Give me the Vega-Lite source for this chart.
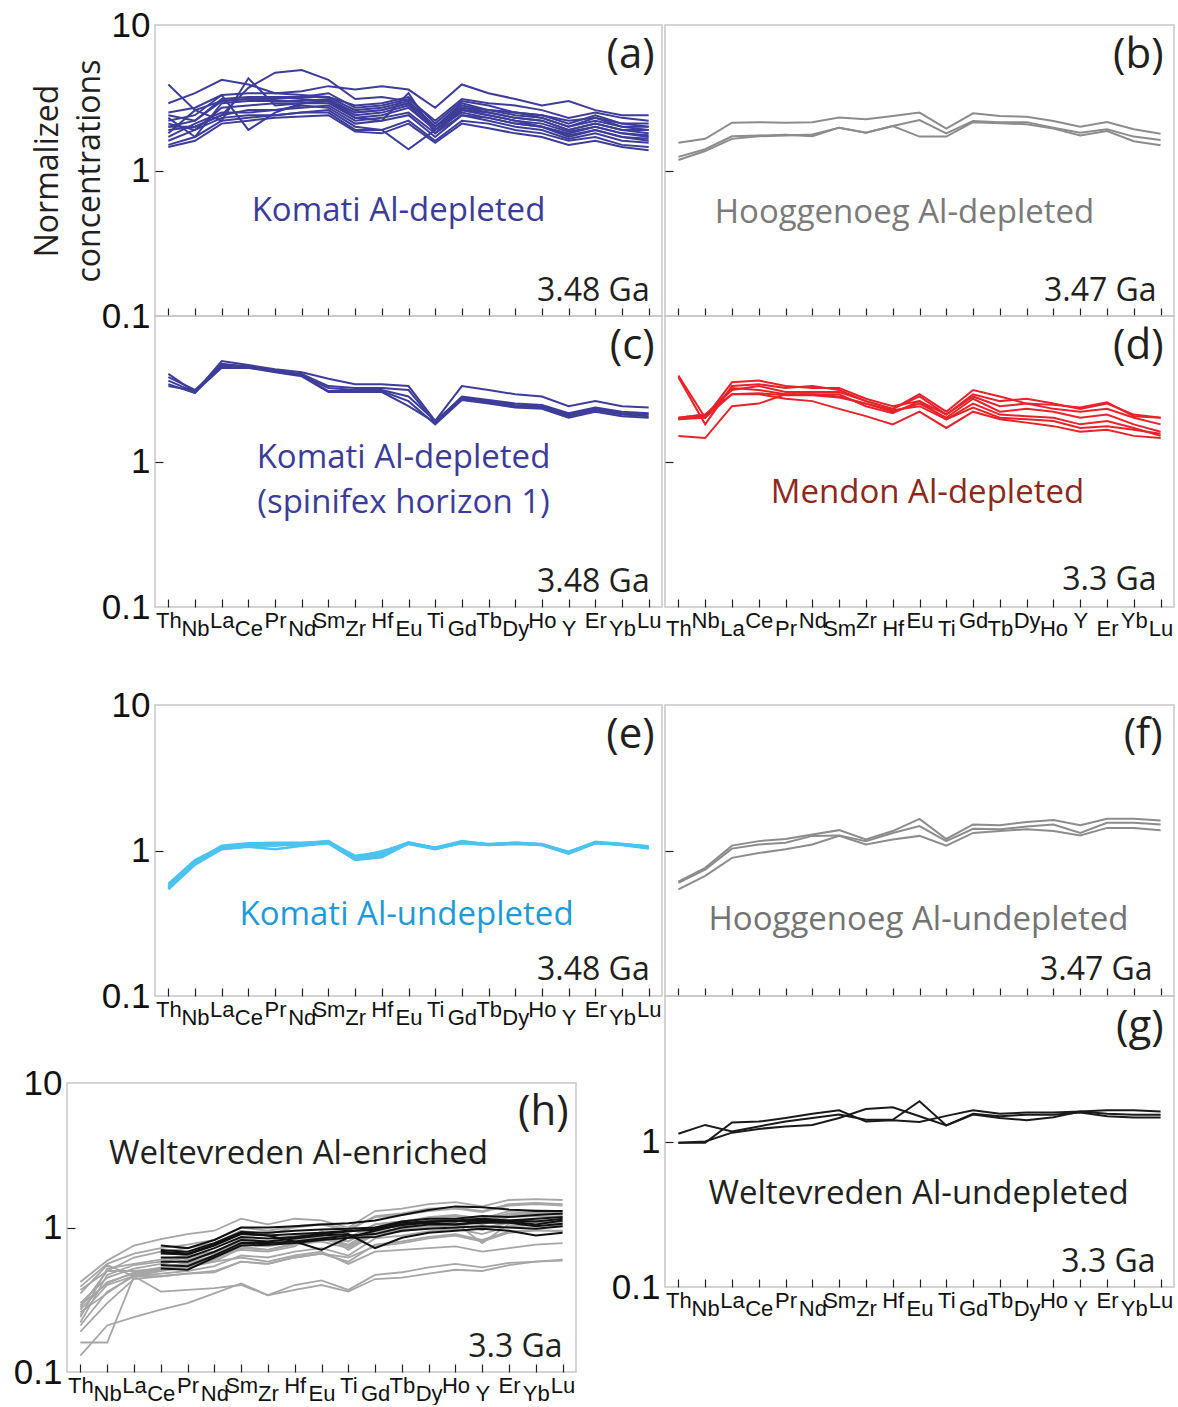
{
"$schema": "https://vega.github.io/schema/vega-lite/v6.json",
"background": "white",
"padding": {"left": 12, "top": 7, "right": 0, "bottom": 0},
"bounds": "full",
"spacing": 47,
"config": {
 "view": {"stroke": "#c6c6c6", "strokeWidth": 1.5},
 "axis": {"domain": false, "grid": false, "tickSize": -8, "tickColor": "#231f20", "tickWidth": 1.2, "labelColor": "#111111", "labelFont": "Liberation Sans Narrow, Liberation Sans, Arial", "labelOverlap": false, "labelBound": false},
 "axisX": {"labelAngle": 0, "labelFontSize": 22, "labelBaseline": "top", "labelPadding": 11},
 "axisY": {"labelFontSize": 35, "labelPadding": 13},
 "text": {"font": "Open Sans"}
},
"datasets": {
"a": [
{"s":1,"e":"Th","v":2},{"s":1,"e":"Nb","v":2.2},{"s":1,"e":"La","v":3.1},{"s":1,"e":"Ce","v":3.2},{"s":1,"e":"Pr","v":3.2},{"s":1,"e":"Nd","v":3.1},{"s":1,"e":"Sm","v":3},{"s":1,"e":"Zr","v":2.5},{"s":1,"e":"Hf","v":2.6},{"s":1,"e":"Eu","v":2.9},{"s":1,"e":"Ti","v":2},{"s":1,"e":"Gd","v":2.8},{"s":1,"e":"Tb","v":2.6},{"s":1,"e":"Dy","v":2.4},{"s":1,"e":"Ho","v":2.3},{"s":1,"e":"Y","v":2},{"s":1,"e":"Er","v":2.2},{"s":1,"e":"Yb","v":2},{"s":1,"e":"Lu","v":2},
{"s":2,"e":"Th","v":2.9},{"s":2,"e":"Nb","v":3.4},{"s":2,"e":"La","v":4.2},{"s":2,"e":"Ce","v":3.9},{"s":2,"e":"Pr","v":3.4},{"s":2,"e":"Nd","v":3.3},{"s":2,"e":"Sm","v":3.2},{"s":2,"e":"Zr","v":2.8},{"s":2,"e":"Hf","v":2.9},{"s":2,"e":"Eu","v":3.2},{"s":2,"e":"Ti","v":2.1},{"s":2,"e":"Gd","v":3},{"s":2,"e":"Tb","v":2.8},{"s":2,"e":"Dy","v":2.5},{"s":2,"e":"Ho","v":2.4},{"s":2,"e":"Y","v":2.1},{"s":2,"e":"Er","v":2.4},{"s":2,"e":"Yb","v":2.1},{"s":2,"e":"Lu","v":2.1},
{"s":3,"e":"Th","v":3.9},{"s":3,"e":"Nb","v":2.6},{"s":3,"e":"La","v":3},{"s":3,"e":"Ce","v":3.1},{"s":3,"e":"Pr","v":3.2},{"s":3,"e":"Nd","v":3.2},{"s":3,"e":"Sm","v":3.2},{"s":3,"e":"Zr","v":2.6},{"s":3,"e":"Hf","v":2.7},{"s":3,"e":"Eu","v":3},{"s":3,"e":"Ti","v":2},{"s":3,"e":"Gd","v":2.9},{"s":3,"e":"Tb","v":2.6},{"s":3,"e":"Dy","v":2.5},{"s":3,"e":"Ho","v":2.3},{"s":3,"e":"Y","v":2},{"s":3,"e":"Er","v":2.3},{"s":3,"e":"Yb","v":2},{"s":3,"e":"Lu","v":1.9},
{"s":4,"e":"Th","v":2},{"s":4,"e":"Nb","v":2},{"s":4,"e":"La","v":2.4},{"s":4,"e":"Ce","v":3.7},{"s":4,"e":"Pr","v":4.7},{"s":4,"e":"Nd","v":4.9},{"s":4,"e":"Sm","v":4.2},{"s":4,"e":"Zr","v":3.1},{"s":4,"e":"Hf","v":3.2},{"s":4,"e":"Eu","v":3},{"s":4,"e":"Ti","v":2},{"s":4,"e":"Gd","v":2.6},{"s":4,"e":"Tb","v":2.5},{"s":4,"e":"Dy","v":2.3},{"s":4,"e":"Ho","v":2.2},{"s":4,"e":"Y","v":1.9},{"s":4,"e":"Er","v":2.1},{"s":4,"e":"Yb","v":1.9},{"s":4,"e":"Lu","v":1.9},
{"s":5,"e":"Th","v":2.5},{"s":5,"e":"Nb","v":2.7},{"s":5,"e":"La","v":3.3},{"s":5,"e":"Ce","v":3.4},{"s":5,"e":"Pr","v":3.4},{"s":5,"e":"Nd","v":3.5},{"s":5,"e":"Sm","v":3.8},{"s":5,"e":"Zr","v":3.6},{"s":5,"e":"Hf","v":3.8},{"s":5,"e":"Eu","v":3.6},{"s":5,"e":"Ti","v":2.7},{"s":5,"e":"Gd","v":3.9},{"s":5,"e":"Tb","v":3.4},{"s":5,"e":"Dy","v":3.1},{"s":5,"e":"Ho","v":2.8},{"s":5,"e":"Y","v":3},{"s":5,"e":"Er","v":2.6},{"s":5,"e":"Yb","v":2.4},{"s":5,"e":"Lu","v":2.4},
{"s":6,"e":"Th","v":1.8},{"s":6,"e":"Nb","v":2.6},{"s":6,"e":"La","v":2.2},{"s":6,"e":"Ce","v":4.3},{"s":6,"e":"Pr","v":2.8},{"s":6,"e":"Nd","v":2.9},{"s":6,"e":"Sm","v":3},{"s":6,"e":"Zr","v":2.4},{"s":6,"e":"Hf","v":2.5},{"s":6,"e":"Eu","v":2.8},{"s":6,"e":"Ti","v":1.9},{"s":6,"e":"Gd","v":2.7},{"s":6,"e":"Tb","v":2.5},{"s":6,"e":"Dy","v":2.3},{"s":6,"e":"Ho","v":2.2},{"s":6,"e":"Y","v":1.9},{"s":6,"e":"Er","v":2.1},{"s":6,"e":"Yb","v":1.9},{"s":6,"e":"Lu","v":1.8},
{"s":7,"e":"Th","v":2.2},{"s":7,"e":"Nb","v":2.4},{"s":7,"e":"La","v":3.3},{"s":7,"e":"Ce","v":1.9},{"s":7,"e":"Pr","v":2.5},{"s":7,"e":"Nd","v":2.9},{"s":7,"e":"Sm","v":3},{"s":7,"e":"Zr","v":2.3},{"s":7,"e":"Hf","v":2.2},{"s":7,"e":"Eu","v":3.4},{"s":7,"e":"Ti","v":1.8},{"s":7,"e":"Gd","v":2.6},{"s":7,"e":"Tb","v":2.4},{"s":7,"e":"Dy","v":2.2},{"s":7,"e":"Ho","v":2},{"s":7,"e":"Y","v":1.8},{"s":7,"e":"Er","v":2},{"s":7,"e":"Yb","v":1.8},{"s":7,"e":"Lu","v":1.7},
{"s":8,"e":"Th","v":1.5},{"s":8,"e":"Nb","v":1.7},{"s":8,"e":"La","v":2.2},{"s":8,"e":"Ce","v":2.3},{"s":8,"e":"Pr","v":2.4},{"s":8,"e":"Nd","v":2.5},{"s":8,"e":"Sm","v":2.6},{"s":8,"e":"Zr","v":2},{"s":8,"e":"Hf","v":1.9},{"s":8,"e":"Eu","v":1.4},{"s":8,"e":"Ti","v":1.9},{"s":8,"e":"Gd","v":2.5},{"s":8,"e":"Tb","v":2.3},{"s":8,"e":"Dy","v":2.1},{"s":8,"e":"Ho","v":2},{"s":8,"e":"Y","v":1.7},{"s":8,"e":"Er","v":1.9},{"s":8,"e":"Yb","v":1.7},{"s":8,"e":"Lu","v":1.6},
{"s":9,"e":"Th","v":1.6},{"s":9,"e":"Nb","v":1.9},{"s":9,"e":"La","v":2.3},{"s":9,"e":"Ce","v":2.4},{"s":9,"e":"Pr","v":2.4},{"s":9,"e":"Nd","v":2.5},{"s":9,"e":"Sm","v":2.5},{"s":9,"e":"Zr","v":1.9},{"s":9,"e":"Hf","v":1.9},{"s":9,"e":"Eu","v":2.2},{"s":9,"e":"Ti","v":1.6},{"s":9,"e":"Gd","v":2.2},{"s":9,"e":"Tb","v":2.1},{"s":9,"e":"Dy","v":1.9},{"s":9,"e":"Ho","v":1.8},{"s":9,"e":"Y","v":1.6},{"s":9,"e":"Er","v":1.7},{"s":9,"e":"Yb","v":1.5},{"s":9,"e":"Lu","v":1.45},
{"s":10,"e":"Th","v":1.9},{"s":10,"e":"Nb","v":2},{"s":10,"e":"La","v":2.4},{"s":10,"e":"Ce","v":2.6},{"s":10,"e":"Pr","v":2.6},{"s":10,"e":"Nd","v":2.7},{"s":10,"e":"Sm","v":2.8},{"s":10,"e":"Zr","v":2.2},{"s":10,"e":"Hf","v":2.3},{"s":10,"e":"Eu","v":2.5},{"s":10,"e":"Ti","v":1.8},{"s":10,"e":"Gd","v":2.4},{"s":10,"e":"Tb","v":2.3},{"s":10,"e":"Dy","v":2.1},{"s":10,"e":"Ho","v":2},{"s":10,"e":"Y","v":1.75},{"s":10,"e":"Er","v":1.9},{"s":10,"e":"Yb","v":1.7},{"s":10,"e":"Lu","v":1.65},
{"s":11,"e":"Th","v":2.1},{"s":11,"e":"Nb","v":1.9},{"s":11,"e":"La","v":2.7},{"s":11,"e":"Ce","v":2.8},{"s":11,"e":"Pr","v":2.9},{"s":11,"e":"Nd","v":2.9},{"s":11,"e":"Sm","v":2.9},{"s":11,"e":"Zr","v":2.3},{"s":11,"e":"Hf","v":2.4},{"s":11,"e":"Eu","v":2.7},{"s":11,"e":"Ti","v":1.9},{"s":11,"e":"Gd","v":2.6},{"s":11,"e":"Tb","v":2.4},{"s":11,"e":"Dy","v":2.2},{"s":11,"e":"Ho","v":2.1},{"s":11,"e":"Y","v":1.85},{"s":11,"e":"Er","v":2},{"s":11,"e":"Yb","v":1.8},{"s":11,"e":"Lu","v":1.75},
{"s":12,"e":"Th","v":1.7},{"s":12,"e":"Nb","v":2.1},{"s":12,"e":"La","v":2.5},{"s":12,"e":"Ce","v":2.5},{"s":12,"e":"Pr","v":2.6},{"s":12,"e":"Nd","v":2.8},{"s":12,"e":"Sm","v":2.7},{"s":12,"e":"Zr","v":2.1},{"s":12,"e":"Hf","v":2.2},{"s":12,"e":"Eu","v":2.4},{"s":12,"e":"Ti","v":1.7},{"s":12,"e":"Gd","v":2.4},{"s":12,"e":"Tb","v":2.2},{"s":12,"e":"Dy","v":2},{"s":12,"e":"Ho","v":1.9},{"s":12,"e":"Y","v":1.65},{"s":12,"e":"Er","v":1.8},{"s":12,"e":"Yb","v":1.6},{"s":12,"e":"Lu","v":1.55},
{"s":13,"e":"Th","v":2.4},{"s":13,"e":"Nb","v":2.2},{"s":13,"e":"La","v":3},{"s":13,"e":"Ce","v":3.1},{"s":13,"e":"Pr","v":3.1},{"s":13,"e":"Nd","v":3.2},{"s":13,"e":"Sm","v":3.4},{"s":13,"e":"Zr","v":2.7},{"s":13,"e":"Hf","v":2.8},{"s":13,"e":"Eu","v":3.1},{"s":13,"e":"Ti","v":2.2},{"s":13,"e":"Gd","v":3.1},{"s":13,"e":"Tb","v":2.9},{"s":13,"e":"Dy","v":2.8},{"s":13,"e":"Ho","v":2.6},{"s":13,"e":"Y","v":2.3},{"s":13,"e":"Er","v":2.5},{"s":13,"e":"Yb","v":2.3},{"s":13,"e":"Lu","v":2.2},
{"s":14,"e":"Th","v":2.3},{"s":14,"e":"Nb","v":1.7},{"s":14,"e":"La","v":2.9},{"s":14,"e":"Ce","v":3},{"s":14,"e":"Pr","v":3},{"s":14,"e":"Nd","v":3},{"s":14,"e":"Sm","v":3.1},{"s":14,"e":"Zr","v":2.5},{"s":14,"e":"Hf","v":2.6},{"s":14,"e":"Eu","v":2.9},{"s":14,"e":"Ti","v":2},{"s":14,"e":"Gd","v":2.7},{"s":14,"e":"Tb","v":2.6},{"s":14,"e":"Dy","v":2.5},{"s":14,"e":"Ho","v":2.4},{"s":14,"e":"Y","v":2.2},{"s":14,"e":"Er","v":2.3},{"s":14,"e":"Yb","v":2.1},{"s":14,"e":"Lu","v":2},
{"s":15,"e":"Th","v":1.45},{"s":15,"e":"Nb","v":1.6},{"s":15,"e":"La","v":2.1},{"s":15,"e":"Ce","v":2.2},{"s":15,"e":"Pr","v":2.3},{"s":15,"e":"Nd","v":2.35},{"s":15,"e":"Sm","v":2.4},{"s":15,"e":"Zr","v":1.85},{"s":15,"e":"Hf","v":1.8},{"s":15,"e":"Eu","v":2.1},{"s":15,"e":"Ti","v":1.55},{"s":15,"e":"Gd","v":2.1},{"s":15,"e":"Tb","v":1.95},{"s":15,"e":"Dy","v":1.8},{"s":15,"e":"Ho","v":1.7},{"s":15,"e":"Y","v":1.5},{"s":15,"e":"Er","v":1.6},{"s":15,"e":"Yb","v":1.45},{"s":15,"e":"Lu","v":1.38}
],
"b": [
{"s":1,"e":"Th","v":1.55},{"s":1,"e":"Nb","v":1.65},{"s":1,"e":"La","v":2.13},{"s":1,"e":"Ce","v":2.15},{"s":1,"e":"Pr","v":2.13},{"s":1,"e":"Nd","v":2.15},{"s":1,"e":"Sm","v":2.31},{"s":1,"e":"Zr","v":2.25},{"s":1,"e":"Hf","v":2.37},{"s":1,"e":"Eu","v":2.5},{"s":1,"e":"Ti","v":1.94},{"s":1,"e":"Gd","v":2.47},{"s":1,"e":"Tb","v":2.37},{"s":1,"e":"Dy","v":2.34},{"s":1,"e":"Ho","v":2.19},{"s":1,"e":"Y","v":2},{"s":1,"e":"Er","v":2.15},{"s":1,"e":"Yb","v":1.92},{"s":1,"e":"Lu","v":1.79},
{"s":2,"e":"Th","v":1.24},{"s":2,"e":"Nb","v":1.4},{"s":2,"e":"La","v":1.72},{"s":2,"e":"Ce","v":1.74},{"s":2,"e":"Pr","v":1.76},{"s":2,"e":"Nd","v":1.72},{"s":2,"e":"Sm","v":1.97},{"s":2,"e":"Zr","v":1.82},{"s":2,"e":"Hf","v":2.02},{"s":2,"e":"Eu","v":1.71},{"s":2,"e":"Ti","v":1.71},{"s":2,"e":"Gd","v":2.15},{"s":2,"e":"Tb","v":2.11},{"s":2,"e":"Dy","v":2.08},{"s":2,"e":"Ho","v":1.94},{"s":2,"e":"Y","v":1.74},{"s":2,"e":"Er","v":1.87},{"s":2,"e":"Yb","v":1.59},{"s":2,"e":"Lu","v":1.49},
{"s":3,"e":"Th","v":1.18},{"s":3,"e":"Nb","v":1.36},{"s":3,"e":"La","v":1.65},{"s":3,"e":"Ce","v":1.72},{"s":3,"e":"Pr","v":1.74},{"s":3,"e":"Nd","v":1.77},{"s":3,"e":"Sm","v":1.97},{"s":3,"e":"Zr","v":1.82},{"s":3,"e":"Hf","v":2.02},{"s":3,"e":"Eu","v":2.22},{"s":3,"e":"Ti","v":1.8},{"s":3,"e":"Gd","v":2.19},{"s":3,"e":"Tb","v":2.15},{"s":3,"e":"Dy","v":2.15},{"s":3,"e":"Ho","v":1.97},{"s":3,"e":"Y","v":1.82},{"s":3,"e":"Er","v":1.92},{"s":3,"e":"Yb","v":1.71},{"s":3,"e":"Lu","v":1.62}
],
"c": [
{"s":1,"e":"Th","v":4},{"s":1,"e":"Nb","v":3},{"s":1,"e":"La","v":4.9},{"s":1,"e":"Ce","v":4.6},{"s":1,"e":"Pr","v":4.3},{"s":1,"e":"Nd","v":4.1},{"s":1,"e":"Sm","v":3.7},{"s":1,"e":"Zr","v":3.4},{"s":1,"e":"Hf","v":3.4},{"s":1,"e":"Eu","v":3.3},{"s":1,"e":"Ti","v":1.9},{"s":1,"e":"Gd","v":3.3},{"s":1,"e":"Tb","v":3.1},{"s":1,"e":"Dy","v":2.9},{"s":1,"e":"Ho","v":2.8},{"s":1,"e":"Y","v":2.4},{"s":1,"e":"Er","v":2.6},{"s":1,"e":"Yb","v":2.4},{"s":1,"e":"Lu","v":2.35},
{"s":2,"e":"Th","v":3.8},{"s":2,"e":"Nb","v":3.1},{"s":2,"e":"La","v":4.6},{"s":2,"e":"Ce","v":4.5},{"s":2,"e":"Pr","v":4.2},{"s":2,"e":"Nd","v":4},{"s":2,"e":"Sm","v":3.3},{"s":2,"e":"Zr","v":3.2},{"s":2,"e":"Hf","v":3.2},{"s":2,"e":"Eu","v":3.1},{"s":2,"e":"Ti","v":1.85},{"s":2,"e":"Gd","v":2.8},{"s":2,"e":"Tb","v":2.65},{"s":2,"e":"Dy","v":2.5},{"s":2,"e":"Ho","v":2.45},{"s":2,"e":"Y","v":2.15},{"s":2,"e":"Er","v":2.35},{"s":2,"e":"Yb","v":2.2},{"s":2,"e":"Lu","v":2.15},
{"s":3,"e":"Th","v":3.6},{"s":3,"e":"Nb","v":3},{"s":3,"e":"La","v":4.4},{"s":3,"e":"Ce","v":4.4},{"s":3,"e":"Pr","v":4.2},{"s":3,"e":"Nd","v":3.9},{"s":3,"e":"Sm","v":3.2},{"s":3,"e":"Zr","v":3.1},{"s":3,"e":"Hf","v":3.1},{"s":3,"e":"Eu","v":2.8},{"s":3,"e":"Ti","v":1.9},{"s":3,"e":"Gd","v":2.75},{"s":3,"e":"Tb","v":2.6},{"s":3,"e":"Dy","v":2.45},{"s":3,"e":"Ho","v":2.4},{"s":3,"e":"Y","v":2.1},{"s":3,"e":"Er","v":2.3},{"s":3,"e":"Yb","v":2.15},{"s":3,"e":"Lu","v":2.1},
{"s":4,"e":"Th","v":3.3},{"s":4,"e":"Nb","v":3.05},{"s":4,"e":"La","v":4.5},{"s":4,"e":"Ce","v":4.4},{"s":4,"e":"Pr","v":4.1},{"s":4,"e":"Nd","v":3.85},{"s":4,"e":"Sm","v":3},{"s":4,"e":"Zr","v":3},{"s":4,"e":"Hf","v":3},{"s":4,"e":"Eu","v":2.4},{"s":4,"e":"Ti","v":1.85},{"s":4,"e":"Gd","v":2.7},{"s":4,"e":"Tb","v":2.55},{"s":4,"e":"Dy","v":2.4},{"s":4,"e":"Ho","v":2.35},{"s":4,"e":"Y","v":2.05},{"s":4,"e":"Er","v":2.25},{"s":4,"e":"Yb","v":2.1},{"s":4,"e":"Lu","v":2.05},
{"s":5,"e":"Th","v":3.4},{"s":5,"e":"Nb","v":2.95},{"s":5,"e":"La","v":4.7},{"s":5,"e":"Ce","v":4.5},{"s":5,"e":"Pr","v":4.2},{"s":5,"e":"Nd","v":3.9},{"s":5,"e":"Sm","v":3.05},{"s":5,"e":"Zr","v":3.05},{"s":5,"e":"Hf","v":3.05},{"s":5,"e":"Eu","v":2.6},{"s":5,"e":"Ti","v":1.8},{"s":5,"e":"Gd","v":2.65},{"s":5,"e":"Tb","v":2.5},{"s":5,"e":"Dy","v":2.35},{"s":5,"e":"Ho","v":2.3},{"s":5,"e":"Y","v":2},{"s":5,"e":"Er","v":2.2},{"s":5,"e":"Yb","v":2.05},{"s":5,"e":"Lu","v":2}
],
"d": [
{"s":1,"e":"Th","v":3.9},{"s":1,"e":"Nb","v":2},{"s":1,"e":"La","v":3.5},{"s":1,"e":"Ce","v":3.6},{"s":1,"e":"Pr","v":3.3},{"s":1,"e":"Nd","v":3.2},{"s":1,"e":"Sm","v":3.2},{"s":1,"e":"Zr","v":2.7},{"s":1,"e":"Hf","v":2.4},{"s":1,"e":"Eu","v":2.6},{"s":1,"e":"Ti","v":2.1},{"s":1,"e":"Gd","v":2.9},{"s":1,"e":"Tb","v":2.6},{"s":1,"e":"Dy","v":2.7},{"s":1,"e":"Ho","v":2.5},{"s":1,"e":"Y","v":2.3},{"s":1,"e":"Er","v":2.5},{"s":1,"e":"Yb","v":2.1},{"s":1,"e":"Lu","v":2},
{"s":2,"e":"Th","v":3.8},{"s":2,"e":"Nb","v":1.8},{"s":2,"e":"La","v":3.3},{"s":2,"e":"Ce","v":3.4},{"s":2,"e":"Pr","v":3.2},{"s":2,"e":"Nd","v":3.3},{"s":2,"e":"Sm","v":3.1},{"s":2,"e":"Zr","v":2.6},{"s":2,"e":"Hf","v":2.3},{"s":2,"e":"Eu","v":2.9},{"s":2,"e":"Ti","v":2.2},{"s":2,"e":"Gd","v":3.1},{"s":2,"e":"Tb","v":2.8},{"s":2,"e":"Dy","v":2.5},{"s":2,"e":"Ho","v":2.3},{"s":2,"e":"Y","v":2.2},{"s":2,"e":"Er","v":2.3},{"s":2,"e":"Yb","v":2},{"s":2,"e":"Lu","v":1.8},
{"s":3,"e":"Th","v":2},{"s":3,"e":"Nb","v":2.1},{"s":3,"e":"La","v":3.1},{"s":3,"e":"Ce","v":3.3},{"s":3,"e":"Pr","v":3},{"s":3,"e":"Nd","v":3},{"s":3,"e":"Sm","v":3},{"s":3,"e":"Zr","v":2.6},{"s":3,"e":"Hf","v":2.3},{"s":3,"e":"Eu","v":2.8},{"s":3,"e":"Ti","v":2.1},{"s":3,"e":"Gd","v":2.8},{"s":3,"e":"Tb","v":2.4},{"s":3,"e":"Dy","v":2.5},{"s":3,"e":"Ho","v":2.45},{"s":3,"e":"Y","v":2.35},{"s":3,"e":"Er","v":2.55},{"s":3,"e":"Yb","v":2.05},{"s":3,"e":"Lu","v":2},
{"s":4,"e":"Th","v":1.95},{"s":4,"e":"Nb","v":2.05},{"s":4,"e":"La","v":3.2},{"s":4,"e":"Ce","v":3.1},{"s":4,"e":"Pr","v":2.9},{"s":4,"e":"Nd","v":2.9},{"s":4,"e":"Sm","v":2.8},{"s":4,"e":"Zr","v":2.5},{"s":4,"e":"Hf","v":2.2},{"s":4,"e":"Eu","v":2.5},{"s":4,"e":"Ti","v":2},{"s":4,"e":"Gd","v":2.7},{"s":4,"e":"Tb","v":2.2},{"s":4,"e":"Dy","v":2.3},{"s":4,"e":"Ho","v":2.2},{"s":4,"e":"Y","v":2},{"s":4,"e":"Er","v":2.1},{"s":4,"e":"Yb","v":1.8},{"s":4,"e":"Lu","v":1.6},
{"s":5,"e":"Th","v":1.5},{"s":5,"e":"Nb","v":1.45},{"s":5,"e":"La","v":2.4},{"s":5,"e":"Ce","v":2.5},{"s":5,"e":"Pr","v":2.9},{"s":5,"e":"Nd","v":2.9},{"s":5,"e":"Sm","v":2.9},{"s":5,"e":"Zr","v":2.4},{"s":5,"e":"Hf","v":2.15},{"s":5,"e":"Eu","v":2.6},{"s":5,"e":"Ti","v":1.95},{"s":5,"e":"Gd","v":2.5},{"s":5,"e":"Tb","v":2.1},{"s":5,"e":"Dy","v":2.05},{"s":5,"e":"Ho","v":2},{"s":5,"e":"Y","v":1.8},{"s":5,"e":"Er","v":1.9},{"s":5,"e":"Yb","v":1.7},{"s":5,"e":"Lu","v":1.5},
{"s":6,"e":"Th","v":2},{"s":6,"e":"Nb","v":2.1},{"s":6,"e":"La","v":2.9},{"s":6,"e":"Ce","v":2.9},{"s":6,"e":"Pr","v":2.7},{"s":6,"e":"Nd","v":2.6},{"s":6,"e":"Sm","v":2.3},{"s":6,"e":"Zr","v":2.05},{"s":6,"e":"Hf","v":1.8},{"s":6,"e":"Eu","v":2.2},{"s":6,"e":"Ti","v":1.7},{"s":6,"e":"Gd","v":2.2},{"s":6,"e":"Tb","v":1.95},{"s":6,"e":"Dy","v":1.85},{"s":6,"e":"Ho","v":1.75},{"s":6,"e":"Y","v":1.6},{"s":6,"e":"Er","v":1.65},{"s":6,"e":"Yb","v":1.5},{"s":6,"e":"Lu","v":1.45},
{"s":7,"e":"Th","v":1.95},{"s":7,"e":"Nb","v":2},{"s":7,"e":"La","v":2.9},{"s":7,"e":"Ce","v":2.95},{"s":7,"e":"Pr","v":2.85},{"s":7,"e":"Nd","v":2.85},{"s":7,"e":"Sm","v":2.75},{"s":7,"e":"Zr","v":2.5},{"s":7,"e":"Hf","v":2.25},{"s":7,"e":"Eu","v":2.4},{"s":7,"e":"Ti","v":1.95},{"s":7,"e":"Gd","v":2.35},{"s":7,"e":"Tb","v":2},{"s":7,"e":"Dy","v":1.95},{"s":7,"e":"Ho","v":1.9},{"s":7,"e":"Y","v":1.7},{"s":7,"e":"Er","v":1.75},{"s":7,"e":"Yb","v":1.65},{"s":7,"e":"Lu","v":1.55}
],
"e": [
{"s":1,"e":"Th","v":0.57},{"s":1,"e":"Nb","v":0.84},{"s":1,"e":"La","v":1.08},{"s":1,"e":"Ce","v":1.12},{"s":1,"e":"Pr","v":1.13},{"s":1,"e":"Nd","v":1.13},{"s":1,"e":"Sm","v":1.15},{"s":1,"e":"Zr","v":0.92},{"s":1,"e":"Hf","v":0.97},{"s":1,"e":"Eu","v":1.14},{"s":1,"e":"Ti","v":1.04},{"s":1,"e":"Gd","v":1.16},{"s":1,"e":"Tb","v":1.1},{"s":1,"e":"Dy","v":1.13},{"s":1,"e":"Ho","v":1.1},{"s":1,"e":"Y","v":0.98},{"s":1,"e":"Er","v":1.14},{"s":1,"e":"Yb","v":1.11},{"s":1,"e":"Lu","v":1.06},
{"s":2,"e":"Th","v":0.54},{"s":2,"e":"Nb","v":0.8},{"s":2,"e":"La","v":1.02},{"s":2,"e":"Ce","v":1.06},{"s":2,"e":"Pr","v":1.02},{"s":2,"e":"Nd","v":1.08},{"s":2,"e":"Sm","v":1.12},{"s":2,"e":"Zr","v":0.86},{"s":2,"e":"Hf","v":0.9},{"s":2,"e":"Eu","v":1.12},{"s":2,"e":"Ti","v":1.03},{"s":2,"e":"Gd","v":1.12},{"s":2,"e":"Tb","v":1.09},{"s":2,"e":"Dy","v":1.11},{"s":2,"e":"Ho","v":1.09},{"s":2,"e":"Y","v":0.95},{"s":2,"e":"Er","v":1.12},{"s":2,"e":"Yb","v":1.1},{"s":2,"e":"Lu","v":1.04},
{"s":3,"e":"Th","v":0.56},{"s":3,"e":"Nb","v":0.83},{"s":3,"e":"La","v":1.04},{"s":3,"e":"Ce","v":1.09},{"s":3,"e":"Pr","v":1.1},{"s":3,"e":"Nd","v":1.11},{"s":3,"e":"Sm","v":1.13},{"s":3,"e":"Zr","v":0.88},{"s":3,"e":"Hf","v":0.95},{"s":3,"e":"Eu","v":1.13},{"s":3,"e":"Ti","v":1.04},{"s":3,"e":"Gd","v":1.14},{"s":3,"e":"Tb","v":1.1},{"s":3,"e":"Dy","v":1.12},{"s":3,"e":"Ho","v":1.1},{"s":3,"e":"Y","v":0.96},{"s":3,"e":"Er","v":1.13},{"s":3,"e":"Yb","v":1.1},{"s":3,"e":"Lu","v":1.05},
{"s":4,"e":"Th","v":0.59},{"s":4,"e":"Nb","v":0.86},{"s":4,"e":"La","v":1.06},{"s":4,"e":"Ce","v":1.1},{"s":4,"e":"Pr","v":1.08},{"s":4,"e":"Nd","v":1.12},{"s":4,"e":"Sm","v":1.16},{"s":4,"e":"Zr","v":0.9},{"s":4,"e":"Hf","v":0.99},{"s":4,"e":"Eu","v":1.12},{"s":4,"e":"Ti","v":1.05},{"s":4,"e":"Gd","v":1.15},{"s":4,"e":"Tb","v":1.11},{"s":4,"e":"Dy","v":1.13},{"s":4,"e":"Ho","v":1.11},{"s":4,"e":"Y","v":0.97},{"s":4,"e":"Er","v":1.15},{"s":4,"e":"Yb","v":1.11},{"s":4,"e":"Lu","v":1.07},
{"s":5,"e":"Th","v":0.55},{"s":5,"e":"Nb","v":0.82},{"s":5,"e":"La","v":1.03},{"s":5,"e":"Ce","v":1.07},{"s":5,"e":"Pr","v":1.09},{"s":5,"e":"Nd","v":1.1},{"s":5,"e":"Sm","v":1.14},{"s":5,"e":"Zr","v":0.87},{"s":5,"e":"Hf","v":0.92},{"s":5,"e":"Eu","v":1.11},{"s":5,"e":"Ti","v":1.02},{"s":5,"e":"Gd","v":1.13},{"s":5,"e":"Tb","v":1.09},{"s":5,"e":"Dy","v":1.12},{"s":5,"e":"Ho","v":1.09},{"s":5,"e":"Y","v":0.96},{"s":5,"e":"Er","v":1.13},{"s":5,"e":"Yb","v":1.09},{"s":5,"e":"Lu","v":1.03}
],
"f": [
{"s":1,"e":"Th","v":0.61},{"s":1,"e":"Nb","v":0.76},{"s":1,"e":"La","v":1.08},{"s":1,"e":"Ce","v":1.16},{"s":1,"e":"Pr","v":1.2},{"s":1,"e":"Nd","v":1.29},{"s":1,"e":"Sm","v":1.38},{"s":1,"e":"Zr","v":1.19},{"s":1,"e":"Hf","v":1.36},{"s":1,"e":"Eu","v":1.65},{"s":1,"e":"Ti","v":1.2},{"s":1,"e":"Gd","v":1.51},{"s":1,"e":"Tb","v":1.49},{"s":1,"e":"Dy","v":1.57},{"s":1,"e":"Ho","v":1.62},{"s":1,"e":"Y","v":1.49},{"s":1,"e":"Er","v":1.65},{"s":1,"e":"Yb","v":1.65},{"s":1,"e":"Lu","v":1.61},
{"s":2,"e":"Th","v":0.6},{"s":2,"e":"Nb","v":0.74},{"s":2,"e":"La","v":1.03},{"s":2,"e":"Ce","v":1.1},{"s":2,"e":"Pr","v":1.13},{"s":2,"e":"Nd","v":1.26},{"s":2,"e":"Sm","v":1.27},{"s":2,"e":"Zr","v":1.16},{"s":2,"e":"Hf","v":1.32},{"s":2,"e":"Eu","v":1.47},{"s":2,"e":"Ti","v":1.16},{"s":2,"e":"Gd","v":1.41},{"s":2,"e":"Tb","v":1.4},{"s":2,"e":"Dy","v":1.46},{"s":2,"e":"Ho","v":1.51},{"s":2,"e":"Y","v":1.32},{"s":2,"e":"Er","v":1.55},{"s":2,"e":"Yb","v":1.55},{"s":2,"e":"Lu","v":1.51},
{"s":3,"e":"Th","v":0.54},{"s":3,"e":"Nb","v":0.67},{"s":3,"e":"La","v":0.89},{"s":3,"e":"Ce","v":0.96},{"s":3,"e":"Pr","v":1.02},{"s":3,"e":"Nd","v":1.1},{"s":3,"e":"Sm","v":1.26},{"s":3,"e":"Zr","v":1.1},{"s":3,"e":"Hf","v":1.19},{"s":3,"e":"Eu","v":1.26},{"s":3,"e":"Ti","v":1.08},{"s":3,"e":"Gd","v":1.32},{"s":3,"e":"Tb","v":1.36},{"s":3,"e":"Dy","v":1.4},{"s":3,"e":"Ho","v":1.36},{"s":3,"e":"Y","v":1.27},{"s":3,"e":"Er","v":1.43},{"s":3,"e":"Yb","v":1.43},{"s":3,"e":"Lu","v":1.38}
],
"g": [
{"s":1,"e":"Th","v":1.13},{"s":1,"e":"Nb","v":1.3},{"s":1,"e":"La","v":1.17},{"s":1,"e":"Ce","v":1.27},{"s":1,"e":"Pr","v":1.37},{"s":1,"e":"Nd","v":1.45},{"s":1,"e":"Sm","v":1.53},{"s":1,"e":"Zr","v":1.41},{"s":1,"e":"Hf","v":1.41},{"s":1,"e":"Eu","v":1.89},{"s":1,"e":"Ti","v":1.29},{"s":1,"e":"Gd","v":1.55},{"s":1,"e":"Tb","v":1.49},{"s":1,"e":"Dy","v":1.53},{"s":1,"e":"Ho","v":1.53},{"s":1,"e":"Y","v":1.58},{"s":1,"e":"Er","v":1.49},{"s":1,"e":"Yb","v":1.46},{"s":1,"e":"Lu","v":1.46},
{"s":2,"e":"Th","v":0.98},{"s":2,"e":"Nb","v":0.98},{"s":2,"e":"La","v":1.35},{"s":2,"e":"Ce","v":1.37},{"s":2,"e":"Pr","v":1.45},{"s":2,"e":"Nd","v":1.55},{"s":2,"e":"Sm","v":1.64},{"s":2,"e":"Zr","v":1.37},{"s":2,"e":"Hf","v":1.4},{"s":2,"e":"Eu","v":1.36},{"s":2,"e":"Ti","v":1.5},{"s":2,"e":"Gd","v":1.64},{"s":2,"e":"Tb","v":1.55},{"s":2,"e":"Dy","v":1.58},{"s":2,"e":"Ho","v":1.58},{"s":2,"e":"Y","v":1.61},{"s":2,"e":"Er","v":1.64},{"s":2,"e":"Yb","v":1.64},{"s":2,"e":"Lu","v":1.61},
{"s":3,"e":"Th","v":0.98},{"s":3,"e":"Nb","v":1},{"s":3,"e":"La","v":1.15},{"s":3,"e":"Ce","v":1.22},{"s":3,"e":"Pr","v":1.27},{"s":3,"e":"Nd","v":1.3},{"s":3,"e":"Sm","v":1.45},{"s":3,"e":"Zr","v":1.67},{"s":3,"e":"Hf","v":1.72},{"s":3,"e":"Eu","v":1.49},{"s":3,"e":"Ti","v":1.29},{"s":3,"e":"Gd","v":1.53},{"s":3,"e":"Tb","v":1.45},{"s":3,"e":"Dy","v":1.4},{"s":3,"e":"Ho","v":1.47},{"s":3,"e":"Y","v":1.61},{"s":3,"e":"Er","v":1.55},{"s":3,"e":"Yb","v":1.53},{"s":3,"e":"Lu","v":1.53}
],
"hg": [
{"s":1,"e":"Th","v":0.42},{"s":1,"e":"Nb","v":0.59},{"s":1,"e":"La","v":0.75},{"s":1,"e":"Ce","v":0.83},{"s":1,"e":"Pr","v":0.9},{"s":1,"e":"Nd","v":0.95},{"s":1,"e":"Sm","v":1.15},{"s":1,"e":"Zr","v":1.05},{"s":1,"e":"Hf","v":1.15},{"s":1,"e":"Eu","v":1.12},{"s":1,"e":"Ti","v":1},{"s":1,"e":"Gd","v":1.3},{"s":1,"e":"Tb","v":1.35},{"s":1,"e":"Dy","v":1.45},{"s":1,"e":"Ho","v":1.5},{"s":1,"e":"Y","v":1.4},{"s":1,"e":"Er","v":1.55},{"s":1,"e":"Yb","v":1.57},{"s":1,"e":"Lu","v":1.55},
{"s":2,"e":"Th","v":0.37},{"s":2,"e":"Nb","v":0.5},{"s":2,"e":"La","v":0.62},{"s":2,"e":"Ce","v":0.68},{"s":2,"e":"Pr","v":0.72},{"s":2,"e":"Nd","v":0.78},{"s":2,"e":"Sm","v":0.95},{"s":2,"e":"Zr","v":0.9},{"s":2,"e":"Hf","v":1},{"s":2,"e":"Eu","v":1.05},{"s":2,"e":"Ti","v":0.95},{"s":2,"e":"Gd","v":1.2},{"s":2,"e":"Tb","v":1.25},{"s":2,"e":"Dy","v":1.35},{"s":2,"e":"Ho","v":1.38},{"s":2,"e":"Y","v":1.3},{"s":2,"e":"Er","v":1.45},{"s":2,"e":"Yb","v":1.48},{"s":2,"e":"Lu","v":1.45},
{"s":3,"e":"Th","v":0.3},{"s":3,"e":"Nb","v":0.45},{"s":3,"e":"La","v":0.52},{"s":3,"e":"Ce","v":0.56},{"s":3,"e":"Pr","v":0.6},{"s":3,"e":"Nd","v":0.66},{"s":3,"e":"Sm","v":0.82},{"s":3,"e":"Zr","v":0.78},{"s":3,"e":"Hf","v":0.86},{"s":3,"e":"Eu","v":0.9},{"s":3,"e":"Ti","v":0.8},{"s":3,"e":"Gd","v":1.05},{"s":3,"e":"Tb","v":1.1},{"s":3,"e":"Dy","v":1.15},{"s":3,"e":"Ho","v":1.2},{"s":3,"e":"Y","v":1.12},{"s":3,"e":"Er","v":1.25},{"s":3,"e":"Yb","v":1.28},{"s":3,"e":"Lu","v":1.25},
{"s":4,"e":"Th","v":0.27},{"s":4,"e":"Nb","v":0.42},{"s":4,"e":"La","v":0.48},{"s":4,"e":"Ce","v":0.52},{"s":4,"e":"Pr","v":0.56},{"s":4,"e":"Nd","v":0.62},{"s":4,"e":"Sm","v":0.76},{"s":4,"e":"Zr","v":0.74},{"s":4,"e":"Hf","v":0.8},{"s":4,"e":"Eu","v":0.86},{"s":4,"e":"Ti","v":0.76},{"s":4,"e":"Gd","v":0.98},{"s":4,"e":"Tb","v":1.02},{"s":4,"e":"Dy","v":1.08},{"s":4,"e":"Ho","v":1.12},{"s":4,"e":"Y","v":1.05},{"s":4,"e":"Er","v":1.18},{"s":4,"e":"Yb","v":1.2},{"s":4,"e":"Lu","v":1.18},
{"s":5,"e":"Th","v":0.25},{"s":5,"e":"Nb","v":0.4},{"s":5,"e":"La","v":0.46},{"s":5,"e":"Ce","v":0.5},{"s":5,"e":"Pr","v":0.53},{"s":5,"e":"Nd","v":0.58},{"s":5,"e":"Sm","v":0.72},{"s":5,"e":"Zr","v":0.7},{"s":5,"e":"Hf","v":0.76},{"s":5,"e":"Eu","v":0.8},{"s":5,"e":"Ti","v":0.72},{"s":5,"e":"Gd","v":0.92},{"s":5,"e":"Tb","v":0.96},{"s":5,"e":"Dy","v":1.02},{"s":5,"e":"Ho","v":1.05},{"s":5,"e":"Y","v":0.98},{"s":5,"e":"Er","v":1.1},{"s":5,"e":"Yb","v":1.12},{"s":5,"e":"Lu","v":1.1},
{"s":6,"e":"Th","v":0.21},{"s":6,"e":"Nb","v":0.36},{"s":6,"e":"La","v":0.46},{"s":6,"e":"Ce","v":0.48},{"s":6,"e":"Pr","v":0.5},{"s":6,"e":"Nd","v":0.54},{"s":6,"e":"Sm","v":0.64},{"s":6,"e":"Zr","v":0.62},{"s":6,"e":"Hf","v":0.68},{"s":6,"e":"Eu","v":0.72},{"s":6,"e":"Ti","v":0.64},{"s":6,"e":"Gd","v":0.84},{"s":6,"e":"Tb","v":0.88},{"s":6,"e":"Dy","v":0.94},{"s":6,"e":"Ho","v":0.98},{"s":6,"e":"Y","v":0.9},{"s":6,"e":"Er","v":1.02},{"s":6,"e":"Yb","v":1.04},{"s":6,"e":"Lu","v":1.02},
{"s":7,"e":"Th","v":0.19},{"s":7,"e":"Nb","v":0.3},{"s":7,"e":"La","v":0.44},{"s":7,"e":"Ce","v":0.46},{"s":7,"e":"Pr","v":0.48},{"s":7,"e":"Nd","v":0.5},{"s":7,"e":"Sm","v":0.58},{"s":7,"e":"Zr","v":0.56},{"s":7,"e":"Hf","v":0.62},{"s":7,"e":"Eu","v":0.66},{"s":7,"e":"Ti","v":0.58},{"s":7,"e":"Gd","v":0.76},{"s":7,"e":"Tb","v":0.8},{"s":7,"e":"Dy","v":0.86},{"s":7,"e":"Ho","v":0.9},{"s":7,"e":"Y","v":0.82},{"s":7,"e":"Er","v":0.94},{"s":7,"e":"Yb","v":0.96},{"s":7,"e":"Lu","v":0.94},
{"s":8,"e":"Th","v":0.35},{"s":8,"e":"Nb","v":0.55},{"s":8,"e":"La","v":0.46},{"s":8,"e":"Ce","v":0.36},{"s":8,"e":"Pr","v":0.37},{"s":8,"e":"Nd","v":0.38},{"s":8,"e":"Sm","v":0.4},{"s":8,"e":"Zr","v":0.34},{"s":8,"e":"Hf","v":0.37},{"s":8,"e":"Eu","v":0.4},{"s":8,"e":"Ti","v":0.36},{"s":8,"e":"Gd","v":0.44},{"s":8,"e":"Tb","v":0.45},{"s":8,"e":"Dy","v":0.48},{"s":8,"e":"Ho","v":0.51},{"s":8,"e":"Y","v":0.5},{"s":8,"e":"Er","v":0.55},{"s":8,"e":"Yb","v":0.58},{"s":8,"e":"Lu","v":0.6},
{"s":9,"e":"Th","v":0.16},{"s":9,"e":"Nb","v":0.16},{"s":9,"e":"La","v":0.46},{"s":9,"e":"Ce","v":0.46},{"s":9,"e":"Pr","v":0.48},{"s":9,"e":"Nd","v":0.49},{"s":9,"e":"Sm","v":0.58},{"s":9,"e":"Zr","v":0.56},{"s":9,"e":"Hf","v":0.62},{"s":9,"e":"Eu","v":0.66},{"s":9,"e":"Ti","v":0.62},{"s":9,"e":"Gd","v":0.74},{"s":9,"e":"Tb","v":0.78},{"s":9,"e":"Dy","v":0.84},{"s":9,"e":"Ho","v":0.88},{"s":9,"e":"Y","v":0.8},{"s":9,"e":"Er","v":0.92},{"s":9,"e":"Yb","v":0.95},{"s":9,"e":"Lu","v":0.95},
{"s":10,"e":"Th","v":0.13},{"s":10,"e":"Nb","v":0.21},{"s":10,"e":"La","v":0.24},{"s":10,"e":"Ce","v":0.27},{"s":10,"e":"Pr","v":0.3},{"s":10,"e":"Nd","v":0.35},{"s":10,"e":"Sm","v":0.41},{"s":10,"e":"Zr","v":0.34},{"s":10,"e":"Hf","v":0.4},{"s":10,"e":"Eu","v":0.43},{"s":10,"e":"Ti","v":0.37},{"s":10,"e":"Gd","v":0.47},{"s":10,"e":"Tb","v":0.49},{"s":10,"e":"Dy","v":0.53},{"s":10,"e":"Ho","v":0.56},{"s":10,"e":"Y","v":0.53},{"s":10,"e":"Er","v":0.57},{"s":10,"e":"Yb","v":0.58},{"s":10,"e":"Lu","v":0.59},
{"s":11,"e":"Th","v":0.28},{"s":11,"e":"Nb","v":0.5},{"s":11,"e":"La","v":0.5},{"s":11,"e":"Ce","v":0.52},{"s":11,"e":"Pr","v":0.55},{"s":11,"e":"Nd","v":0.58},{"s":11,"e":"Sm","v":0.62},{"s":11,"e":"Zr","v":0.58},{"s":11,"e":"Hf","v":0.64},{"s":11,"e":"Eu","v":0.68},{"s":11,"e":"Ti","v":0.56},{"s":11,"e":"Gd","v":0.68},{"s":11,"e":"Tb","v":0.7},{"s":11,"e":"Dy","v":0.72},{"s":11,"e":"Ho","v":0.74},{"s":11,"e":"Y","v":0.68},{"s":11,"e":"Er","v":0.72},{"s":11,"e":"Yb","v":0.76},{"s":11,"e":"Lu","v":0.78},
{"s":12,"e":"Th","v":0.24},{"s":12,"e":"Nb","v":0.52},{"s":12,"e":"La","v":0.56},{"s":12,"e":"Ce","v":0.6},{"s":12,"e":"Pr","v":0.64},{"s":12,"e":"Nd","v":0.68},{"s":12,"e":"Sm","v":0.8},{"s":12,"e":"Zr","v":0.76},{"s":12,"e":"Hf","v":0.82},{"s":12,"e":"Eu","v":0.86},{"s":12,"e":"Ti","v":0.8},{"s":12,"e":"Gd","v":1},{"s":12,"e":"Tb","v":1.05},{"s":12,"e":"Dy","v":1.12},{"s":12,"e":"Ho","v":1.15},{"s":12,"e":"Y","v":1.08},{"s":12,"e":"Er","v":1.22},{"s":12,"e":"Yb","v":1.25},{"s":12,"e":"Lu","v":1.22},
{"s":13,"e":"Th","v":0.22},{"s":13,"e":"Nb","v":0.47},{"s":13,"e":"La","v":0.55},{"s":13,"e":"Ce","v":0.58},{"s":13,"e":"Pr","v":0.62},{"s":13,"e":"Nd","v":0.67},{"s":13,"e":"Sm","v":0.84},{"s":13,"e":"Zr","v":0.8},{"s":13,"e":"Hf","v":0.88},{"s":13,"e":"Eu","v":0.92},{"s":13,"e":"Ti","v":0.85},{"s":13,"e":"Gd","v":1.05},{"s":13,"e":"Tb","v":1.1},{"s":13,"e":"Dy","v":1.18},{"s":13,"e":"Ho","v":1.22},{"s":13,"e":"Y","v":1.15},{"s":13,"e":"Er","v":1.3},{"s":13,"e":"Yb","v":1.32},{"s":13,"e":"Lu","v":1.3},
{"s":14,"e":"Th","v":0.26},{"s":14,"e":"Nb","v":0.35},{"s":14,"e":"La","v":0.47},{"s":14,"e":"Ce","v":0.51},{"s":14,"e":"Pr","v":0.54},{"s":14,"e":"Nd","v":0.6},{"s":14,"e":"Sm","v":0.74},{"s":14,"e":"Zr","v":0.7},{"s":14,"e":"Hf","v":0.78},{"s":14,"e":"Eu","v":0.84},{"s":14,"e":"Ti","v":0.74},{"s":14,"e":"Gd","v":0.94},{"s":14,"e":"Tb","v":0.98},{"s":14,"e":"Dy","v":1.04},{"s":14,"e":"Ho","v":1.08},{"s":14,"e":"Y","v":0.78},{"s":14,"e":"Er","v":1.06},{"s":14,"e":"Yb","v":1.1},{"s":14,"e":"Lu","v":1.08},
{"s":15,"e":"Th","v":0.39},{"s":15,"e":"Nb","v":0.56},{"s":15,"e":"La","v":0.66},{"s":15,"e":"Ce","v":0.72},{"s":15,"e":"Pr","v":0.76},{"s":15,"e":"Nd","v":0.82},{"s":15,"e":"Sm","v":1},{"s":15,"e":"Zr","v":0.95},{"s":15,"e":"Hf","v":1.02},{"s":15,"e":"Eu","v":1.06},{"s":15,"e":"Ti","v":0.98},{"s":15,"e":"Gd","v":1.18},{"s":15,"e":"Tb","v":1.22},{"s":15,"e":"Dy","v":1.3},{"s":15,"e":"Ho","v":1.35},{"s":15,"e":"Y","v":1.28},{"s":15,"e":"Er","v":1.42},{"s":15,"e":"Yb","v":1.45},{"s":15,"e":"Lu","v":1.42},
{"s":16,"e":"Th","v":0.29},{"s":16,"e":"Nb","v":0.41},{"s":16,"e":"La","v":0.49},{"s":16,"e":"Ce","v":0.53},{"s":16,"e":"Pr","v":0.57},{"s":16,"e":"Nd","v":0.64},{"s":16,"e":"Sm","v":0.7},{"s":16,"e":"Zr","v":0.68},{"s":16,"e":"Hf","v":0.74},{"s":16,"e":"Eu","v":0.95},{"s":16,"e":"Ti","v":0.7},{"s":16,"e":"Gd","v":0.9},{"s":16,"e":"Tb","v":0.94},{"s":16,"e":"Dy","v":1},{"s":16,"e":"Ho","v":1.04},{"s":16,"e":"Y","v":0.96},{"s":16,"e":"Er","v":1.08},{"s":16,"e":"Yb","v":1.1},{"s":16,"e":"Lu","v":1.05}
],
"hk": [
{"s":1,"e":"Ce","v":0.75},{"s":1,"e":"Pr","v":0.72},{"s":1,"e":"Nd","v":0.82},{"s":1,"e":"Sm","v":1},{"s":1,"e":"Zr","v":1},{"s":1,"e":"Hf","v":1.02},{"s":1,"e":"Eu","v":1.05},{"s":1,"e":"Ti","v":1.07},{"s":1,"e":"Gd","v":1.12},{"s":1,"e":"Tb","v":1.22},{"s":1,"e":"Dy","v":1.32},{"s":1,"e":"Ho","v":1.4},{"s":1,"e":"Y","v":1.38},{"s":1,"e":"Er","v":1.33},{"s":1,"e":"Yb","v":1.3},{"s":1,"e":"Lu","v":1.3},
{"s":2,"e":"Ce","v":0.7},{"s":2,"e":"Pr","v":0.68},{"s":2,"e":"Nd","v":0.78},{"s":2,"e":"Sm","v":0.93},{"s":2,"e":"Zr","v":0.92},{"s":2,"e":"Hf","v":0.95},{"s":2,"e":"Eu","v":0.97},{"s":2,"e":"Ti","v":0.98},{"s":2,"e":"Gd","v":1},{"s":2,"e":"Tb","v":1.1},{"s":2,"e":"Dy","v":1.15},{"s":2,"e":"Ho","v":1.15},{"s":2,"e":"Y","v":1.2},{"s":2,"e":"Er","v":1.18},{"s":2,"e":"Yb","v":1.22},{"s":2,"e":"Lu","v":1.25},
{"s":3,"e":"Ce","v":0.66},{"s":3,"e":"Pr","v":0.65},{"s":3,"e":"Nd","v":0.75},{"s":3,"e":"Sm","v":0.9},{"s":3,"e":"Zr","v":0.88},{"s":3,"e":"Hf","v":0.8},{"s":3,"e":"Eu","v":0.7},{"s":3,"e":"Ti","v":0.85},{"s":3,"e":"Gd","v":0.95},{"s":3,"e":"Tb","v":1.05},{"s":3,"e":"Dy","v":1.1},{"s":3,"e":"Ho","v":1.12},{"s":3,"e":"Y","v":1.15},{"s":3,"e":"Er","v":1.12},{"s":3,"e":"Yb","v":1.15},{"s":3,"e":"Lu","v":1.18},
{"s":4,"e":"Ce","v":0.62},{"s":4,"e":"Pr","v":0.62},{"s":4,"e":"Nd","v":0.72},{"s":4,"e":"Sm","v":0.86},{"s":4,"e":"Zr","v":0.84},{"s":4,"e":"Hf","v":0.86},{"s":4,"e":"Eu","v":0.9},{"s":4,"e":"Ti","v":0.94},{"s":4,"e":"Gd","v":0.98},{"s":4,"e":"Tb","v":1.08},{"s":4,"e":"Dy","v":1.1},{"s":4,"e":"Ho","v":1.1},{"s":4,"e":"Y","v":1.12},{"s":4,"e":"Er","v":1.1},{"s":4,"e":"Yb","v":1.05},{"s":4,"e":"Lu","v":1.12},
{"s":5,"e":"Ce","v":0.58},{"s":5,"e":"Pr","v":0.58},{"s":5,"e":"Nd","v":0.68},{"s":5,"e":"Sm","v":0.82},{"s":5,"e":"Zr","v":0.8},{"s":5,"e":"Hf","v":0.84},{"s":5,"e":"Eu","v":0.88},{"s":5,"e":"Ti","v":0.9},{"s":5,"e":"Gd","v":0.72},{"s":5,"e":"Tb","v":0.85},{"s":5,"e":"Dy","v":0.92},{"s":5,"e":"Ho","v":0.95},{"s":5,"e":"Y","v":0.98},{"s":5,"e":"Er","v":0.95},{"s":5,"e":"Yb","v":0.88},{"s":5,"e":"Lu","v":0.92},
{"s":6,"e":"Ce","v":0.55},{"s":6,"e":"Pr","v":0.54},{"s":6,"e":"Nd","v":0.64},{"s":6,"e":"Sm","v":0.78},{"s":6,"e":"Zr","v":0.78},{"s":6,"e":"Hf","v":0.8},{"s":6,"e":"Eu","v":0.84},{"s":6,"e":"Ti","v":0.88},{"s":6,"e":"Gd","v":0.9},{"s":6,"e":"Tb","v":1},{"s":6,"e":"Dy","v":1.05},{"s":6,"e":"Ho","v":1.05},{"s":6,"e":"Y","v":1.08},{"s":6,"e":"Er","v":1.08},{"s":6,"e":"Yb","v":1.02},{"s":6,"e":"Lu","v":1.06},
{"s":7,"e":"Ce","v":0.52},{"s":7,"e":"Pr","v":0.51},{"s":7,"e":"Nd","v":0.62},{"s":7,"e":"Sm","v":0.75},{"s":7,"e":"Zr","v":0.76},{"s":7,"e":"Hf","v":0.78},{"s":7,"e":"Eu","v":0.82},{"s":7,"e":"Ti","v":0.85},{"s":7,"e":"Gd","v":0.86},{"s":7,"e":"Tb","v":0.95},{"s":7,"e":"Dy","v":0.98},{"s":7,"e":"Ho","v":1},{"s":7,"e":"Y","v":1.02},{"s":7,"e":"Er","v":1},{"s":7,"e":"Yb","v":0.98},{"s":7,"e":"Lu","v":1.02},
{"s":8,"e":"Ce","v":0.68},{"s":8,"e":"Pr","v":0.66},{"s":8,"e":"Nd","v":0.76},{"s":8,"e":"Sm","v":0.92},{"s":8,"e":"Zr","v":0.88},{"s":8,"e":"Hf","v":0.9},{"s":8,"e":"Eu","v":0.92},{"s":8,"e":"Ti","v":0.95},{"s":8,"e":"Gd","v":0.96},{"s":8,"e":"Tb","v":1.04},{"s":8,"e":"Dy","v":1.08},{"s":8,"e":"Ho","v":1.05},{"s":8,"e":"Y","v":1.1},{"s":8,"e":"Er","v":1.12},{"s":8,"e":"Yb","v":1.1},{"s":8,"e":"Lu","v":1.15}
]
},
"vconcat": [
{"concat": [
 {"data": {"values": []}, "mark": "point", "width": 85, "height": 291, "view": {"stroke": null}},
 {"width": 507, "height": 291, "layer": [
  {"data": {"name": "a"}, "mark": {"type": "line", "color": "#3d3d99", "strokeWidth": 2},
   "encoding": {
    "x": {"field": "e", "type": "ordinal", "scale": {"type": "point", "domain": ["Th","Nb","La","Ce","Pr","Nd","Sm","Zr","Hf","Eu","Ti","Gd","Tb","Dy","Ho","Y","Er","Yb","Lu"], "padding": 0.5}, "axis": {"title": null, "labels": false}},
    "y": {"field": "v", "type": "quantitative", "scale": {"type": "log", "domain": [0.1, 10], "nice": false}, "axis": {"title": ["Normalized", "concentrations"], "titleFont": "Open Sans", "titleFontSize": 32, "titleFontWeight": "normal", "titleColor": "#231f20", "titleLineHeight": 42, "titlePadding": -5, "values": [0.1, 1, 10], "labelExpr": "datum.value > 5 ? '10' : datum.value > 0.5 ? '1' : '0.1'", "tickOpacity": {"condition": {"test": "datum.value > 0.5 && datum.value < 5", "value": 1}, "value": 0}}},
    "detail": {"field": "s", "type": "nominal"}, "order": {"value": null}}},
  {"data": {"values": [{}]}, "mark": {"type": "text", "align": "right", "baseline": "alphabetic", "fontSize": 42, "color": "#231f20", "dx": 6}, "encoding": {"x": {"datum": "Lu", "type": "ordinal"}, "y": {"datum": 5.1, "type": "quantitative"}, "text": {"value": "(a)"}}},
  {"data": {"values": [{}]}, "mark": {"type": "text", "align": "center", "baseline": "alphabetic", "fontSize": 33, "color": "#3c3c98", "dx": -10}, "encoding": {"x": {"datum": "Eu", "type": "ordinal"}, "y": {"datum": 0.45, "type": "quantitative"}, "text": {"value": "Komati Al-depleted"}}},
  {"data": {"values": [{}]}, "mark": {"type": "text", "align": "right", "baseline": "alphabetic", "fontSize": 32, "color": "#231f20", "dx": 1}, "encoding": {"x": {"datum": "Lu", "type": "ordinal"}, "y": {"datum": 0.127, "type": "quantitative"}, "text": {"value": "3.48 Ga"}}}
 ]},
 {"width": 509, "height": 291, "layer": [
  {"data": {"name": "b"}, "mark": {"type": "line", "color": "#8c8c8c", "strokeWidth": 2},
   "encoding": {
    "x": {"field": "e", "type": "ordinal", "scale": {"type": "point", "domain": ["Th","Nb","La","Ce","Pr","Nd","Sm","Zr","Hf","Eu","Ti","Gd","Tb","Dy","Ho","Y","Er","Yb","Lu"], "padding": 0.5}, "axis": {"title": null, "labels": false}},
    "y": {"field": "v", "type": "quantitative", "scale": {"type": "log", "domain": [0.1, 10], "nice": false}, "axis": {"title": null, "values": [1], "labels": false}},
    "detail": {"field": "s", "type": "nominal"}, "order": {"value": null}}},
  {"data": {"values": [{}]}, "mark": {"type": "text", "align": "right", "baseline": "alphabetic", "fontSize": 42, "color": "#231f20", "dx": 3}, "encoding": {"x": {"datum": "Lu", "type": "ordinal"}, "y": {"datum": 5.1, "type": "quantitative"}, "text": {"value": "(b)"}}},
  {"data": {"values": [{}]}, "mark": {"type": "text", "align": "center", "baseline": "alphabetic", "fontSize": 33, "color": "#7a7a7a", "dx": -15}, "encoding": {"x": {"datum": "Eu", "type": "ordinal"}, "y": {"datum": 0.436, "type": "quantitative"}, "text": {"value": "Hooggenoeg Al-depleted"}}},
  {"data": {"values": [{}]}, "mark": {"type": "text", "align": "right", "baseline": "alphabetic", "fontSize": 32, "color": "#231f20", "dx": -4}, "encoding": {"x": {"datum": "Lu", "type": "ordinal"}, "y": {"datum": 0.127, "type": "quantitative"}, "text": {"value": "3.47 Ga"}}}
 ]},
 {"data": {"values": []}, "mark": "point", "width": 85, "height": 291, "view": {"stroke": null}},
 {"width": 507, "height": 291, "layer": [
  {"data": {"name": "c"}, "mark": {"type": "line", "color": "#3d3d99", "strokeWidth": 2},
   "encoding": {
    "x": {"field": "e", "type": "ordinal", "scale": {"type": "point", "domain": ["Th","Nb","La","Ce","Pr","Nd","Sm","Zr","Hf","Eu","Ti","Gd","Tb","Dy","Ho","Y","Er","Yb","Lu"], "padding": 0.5}, "axis": {"title": null, "labelPadding": {"condition": {"test": "indexof(['Nb','Ce','Nd','Zr','Eu','Gd','Dy','Y','Yb'], datum.value) >= 0", "value": 19}, "value": 11}}},
    "y": {"field": "v", "type": "quantitative", "scale": {"type": "log", "domain": [0.1, 10], "nice": false}, "axis": {"title": null, "values": [0.1, 1], "labelExpr": "datum.value > 0.5 ? '1' : '0.1'", "tickOpacity": {"condition": {"test": "datum.value > 0.5", "value": 1}, "value": 0}}},
    "detail": {"field": "s", "type": "nominal"}, "order": {"value": null}}},
  {"data": {"values": [{}]}, "mark": {"type": "text", "align": "right", "baseline": "alphabetic", "fontSize": 42, "color": "#231f20", "dx": 6}, "encoding": {"x": {"datum": "Lu", "type": "ordinal"}, "y": {"datum": 5.1, "type": "quantitative"}, "text": {"value": "(c)"}}},
  {"data": {"values": [{}]}, "mark": {"type": "text", "align": "center", "baseline": "alphabetic", "fontSize": 33, "color": "#3c3c98", "dx": -5}, "encoding": {"x": {"datum": "Eu", "type": "ordinal"}, "y": {"datum": 0.9, "type": "quantitative"}, "text": {"value": "Komati Al-depleted"}}},
  {"data": {"values": [{}]}, "mark": {"type": "text", "align": "center", "baseline": "alphabetic", "fontSize": 33, "color": "#3c3c98", "dx": -5}, "encoding": {"x": {"datum": "Eu", "type": "ordinal"}, "y": {"datum": 0.44, "type": "quantitative"}, "text": {"value": "(spinifex horizon 1)"}}},
  {"data": {"values": [{}]}, "mark": {"type": "text", "align": "right", "baseline": "alphabetic", "fontSize": 32, "color": "#231f20", "dx": 1}, "encoding": {"x": {"datum": "Lu", "type": "ordinal"}, "y": {"datum": 0.127, "type": "quantitative"}, "text": {"value": "3.48 Ga"}}}
 ]},
 {"width": 509, "height": 291, "layer": [
  {"data": {"name": "d"}, "mark": {"type": "line", "color": "#e6232a", "strokeWidth": 2},
   "encoding": {
    "x": {"field": "e", "type": "ordinal", "scale": {"type": "point", "domain": ["Th","Nb","La","Ce","Pr","Nd","Sm","Zr","Hf","Eu","Ti","Gd","Tb","Dy","Ho","Y","Er","Yb","Lu"], "padding": 0.5}, "axis": {"title": null, "labelPadding": {"condition": {"test": "indexof(['Th','La','Pr','Sm','Hf','Ti','Tb','Ho','Er','Lu'], datum.value) >= 0", "value": 19}, "value": 11}}},
    "y": {"field": "v", "type": "quantitative", "scale": {"type": "log", "domain": [0.1, 10], "nice": false}, "axis": {"title": null, "values": [1], "labels": false}},
    "detail": {"field": "s", "type": "nominal"}, "order": {"value": null}}},
  {"data": {"values": [{}]}, "mark": {"type": "text", "align": "right", "baseline": "alphabetic", "fontSize": 42, "color": "#231f20", "dx": 3}, "encoding": {"x": {"datum": "Lu", "type": "ordinal"}, "y": {"datum": 5.1, "type": "quantitative"}, "text": {"value": "(d)"}}},
  {"data": {"values": [{}]}, "mark": {"type": "text", "align": "center", "baseline": "alphabetic", "fontSize": 33, "color": "#8b2a1b", "dx": 8}, "encoding": {"x": {"datum": "Eu", "type": "ordinal"}, "y": {"datum": 0.52, "type": "quantitative"}, "text": {"value": "Mendon Al-depleted"}}},
  {"data": {"values": [{}]}, "mark": {"type": "text", "align": "right", "baseline": "alphabetic", "fontSize": 32, "color": "#231f20", "dx": -4}, "encoding": {"x": {"datum": "Lu", "type": "ordinal"}, "y": {"datum": 0.13, "type": "quantitative"}, "text": {"value": "3.3 Ga"}}}
 ]}
], "columns": 3, "bounds": "flush", "spacing": {"row": 0, "column": 3}},
{"hconcat": [
 {"vconcat": [
  {"hconcat": [
   {"data": {"values": []}, "mark": "point", "width": 85, "height": 291, "view": {"stroke": null}},
   {"width": 507, "height": 291, "layer": [
    {"data": {"name": "e"}, "mark": {"type": "line", "color": "#4cc2ef", "strokeWidth": 2.5},
     "encoding": {
      "x": {"field": "e", "type": "ordinal", "scale": {"type": "point", "domain": ["Th","Nb","La","Ce","Pr","Nd","Sm","Zr","Hf","Eu","Ti","Gd","Tb","Dy","Ho","Y","Er","Yb","Lu"], "padding": 0.5}, "axis": {"title": null, "labelPadding": {"condition": {"test": "indexof(['Nb','Ce','Nd','Zr','Eu','Gd','Dy','Y','Yb'], datum.value) >= 0", "value": 19}, "value": 11}}},
      "y": {"field": "v", "type": "quantitative", "scale": {"type": "log", "domain": [0.1, 10], "nice": false}, "axis": {"title": null, "values": [0.1, 1, 10], "labelExpr": "datum.value > 5 ? '10' : datum.value > 0.5 ? '1' : '0.1'", "tickOpacity": {"condition": {"test": "datum.value > 0.5 && datum.value < 5", "value": 1}, "value": 0}}},
      "detail": {"field": "s", "type": "nominal"}, "order": {"value": null}}},
    {"data": {"values": [{}]}, "mark": {"type": "text", "align": "right", "baseline": "alphabetic", "fontSize": 42, "color": "#231f20", "dx": 6}, "encoding": {"x": {"datum": "Lu", "type": "ordinal"}, "y": {"datum": 5.1, "type": "quantitative"}, "text": {"value": "(e)"}}},
    {"data": {"values": [{}]}, "mark": {"type": "text", "align": "center", "baseline": "alphabetic", "fontSize": 33, "color": "#1f9ad6", "dx": -2}, "encoding": {"x": {"datum": "Eu", "type": "ordinal"}, "y": {"datum": 0.31, "type": "quantitative"}, "text": {"value": "Komati Al-undepleted"}}},
    {"data": {"values": [{}]}, "mark": {"type": "text", "align": "right", "baseline": "alphabetic", "fontSize": 32, "color": "#231f20", "dx": 1}, "encoding": {"x": {"datum": "Lu", "type": "ordinal"}, "y": {"datum": 0.128, "type": "quantitative"}, "text": {"value": "3.48 Ga"}}}
   ]}
  ], "bounds": "flush", "spacing": 3},
  {"width": 509, "height": 289, "layer": [
   {"data": {"name": "hg"}, "mark": {"type": "line", "color": "#a6a6a6", "strokeWidth": 1.8},
    "encoding": {
     "x": {"field": "e", "type": "ordinal", "scale": {"type": "point", "domain": ["Th","Nb","La","Ce","Pr","Nd","Sm","Zr","Hf","Eu","Ti","Gd","Tb","Dy","Ho","Y","Er","Yb","Lu"], "padding": 0.5}, "axis": {"title": null, "labelPadding": {"condition": {"test": "indexof(['Nb','Ce','Nd','Zr','Eu','Gd','Dy','Y','Yb'], datum.value) >= 0", "value": 19}, "value": 11}}},
     "y": {"field": "v", "type": "quantitative", "scale": {"type": "log", "domain": [0.1, 10], "nice": false}, "axis": {"title": null, "values": [0.1, 1, 10], "labelExpr": "datum.value > 5 ? '10' : datum.value > 0.5 ? '1' : '0.1'", "tickOpacity": {"condition": {"test": "datum.value > 0.5 && datum.value < 5", "value": 1}, "value": 0}}},
     "detail": {"field": "s", "type": "nominal"}, "order": {"value": null}}},
   {"data": {"name": "hk"}, "mark": {"type": "line", "color": "#111111", "strokeWidth": 2},
    "encoding": {
     "x": {"field": "e", "type": "ordinal"},
     "y": {"field": "v", "type": "quantitative"},
     "detail": {"field": "s", "type": "nominal"}, "order": {"value": null}}},
   {"data": {"values": [{}]}, "mark": {"type": "text", "align": "right", "baseline": "alphabetic", "fontSize": 42, "color": "#231f20", "dx": 6}, "encoding": {"x": {"datum": "Lu", "type": "ordinal"}, "y": {"datum": 5.1, "type": "quantitative"}, "text": {"value": "(h)"}}},
   {"data": {"values": [{}]}, "mark": {"type": "text", "align": "center", "baseline": "alphabetic", "fontSize": 33, "color": "#231f20", "dx": -23}, "encoding": {"x": {"datum": "Eu", "type": "ordinal"}, "y": {"datum": 2.77, "type": "quantitative"}, "text": {"value": "Weltevreden Al-enriched"}}},
   {"data": {"values": [{}]}, "mark": {"type": "text", "align": "right", "baseline": "alphabetic", "fontSize": 32, "color": "#231f20", "dx": 0}, "encoding": {"x": {"datum": "Lu", "type": "ordinal"}, "y": {"datum": 0.126, "type": "quantitative"}, "text": {"value": "3.3 Ga"}}}
  ]}
 ], "bounds": "full", "spacing": 36},
 {"vconcat": [
  {"width": 509, "height": 291, "layer": [
   {"data": {"name": "f"}, "mark": {"type": "line", "color": "#8c8c8c", "strokeWidth": 2},
    "encoding": {
     "x": {"field": "e", "type": "ordinal", "scale": {"type": "point", "domain": ["Th","Nb","La","Ce","Pr","Nd","Sm","Zr","Hf","Eu","Ti","Gd","Tb","Dy","Ho","Y","Er","Yb","Lu"], "padding": 0.5}, "axis": {"title": null, "labels": false}},
     "y": {"field": "v", "type": "quantitative", "scale": {"type": "log", "domain": [0.1, 10], "nice": false}, "axis": {"title": null, "values": [1], "labels": false}},
     "detail": {"field": "s", "type": "nominal"}, "order": {"value": null}}},
   {"data": {"values": [{}]}, "mark": {"type": "text", "align": "right", "baseline": "alphabetic", "fontSize": 42, "color": "#231f20", "dx": 2}, "encoding": {"x": {"datum": "Lu", "type": "ordinal"}, "y": {"datum": 5.1, "type": "quantitative"}, "text": {"value": "(f)"}}},
   {"data": {"values": [{}]}, "mark": {"type": "text", "align": "center", "baseline": "alphabetic", "fontSize": 33, "color": "#737373", "dx": -1}, "encoding": {"x": {"datum": "Eu", "type": "ordinal"}, "y": {"datum": 0.286, "type": "quantitative"}, "text": {"value": "Hooggenoeg Al-undepleted"}}},
   {"data": {"values": [{}]}, "mark": {"type": "text", "align": "right", "baseline": "alphabetic", "fontSize": 32, "color": "#231f20", "dx": -8}, "encoding": {"x": {"datum": "Lu", "type": "ordinal"}, "y": {"datum": 0.128, "type": "quantitative"}, "text": {"value": "3.47 Ga"}}}
  ]},
  {"width": 509, "height": 291, "layer": [
   {"data": {"name": "g"}, "mark": {"type": "line", "color": "#1a1a1a", "strokeWidth": 2},
    "encoding": {
     "x": {"field": "e", "type": "ordinal", "scale": {"type": "point", "domain": ["Th","Nb","La","Ce","Pr","Nd","Sm","Zr","Hf","Eu","Ti","Gd","Tb","Dy","Ho","Y","Er","Yb","Lu"], "padding": 0.5}, "axis": {"title": null, "labelPadding": {"condition": {"test": "indexof(['Nb','Ce','Nd','Zr','Eu','Gd','Dy','Y','Yb'], datum.value) >= 0", "value": 19}, "value": 11}}},
     "y": {"field": "v", "type": "quantitative", "scale": {"type": "log", "domain": [0.1, 10], "nice": false}, "axis": {"title": null, "values": [0.1, 1], "labelExpr": "datum.value > 0.5 ? '1' : '0.1'", "tickOpacity": {"condition": {"test": "datum.value > 0.5", "value": 1}, "value": 0}}},
     "detail": {"field": "s", "type": "nominal"}, "order": {"value": null}}},
   {"data": {"values": [{}]}, "mark": {"type": "text", "align": "right", "baseline": "alphabetic", "fontSize": 42, "color": "#231f20", "dx": 3}, "encoding": {"x": {"datum": "Lu", "type": "ordinal"}, "y": {"datum": 5.0, "type": "quantitative"}, "text": {"value": "(g)"}}},
   {"data": {"values": [{}]}, "mark": {"type": "text", "align": "center", "baseline": "alphabetic", "fontSize": 33, "color": "#231f20", "dx": -1}, "encoding": {"x": {"datum": "Eu", "type": "ordinal"}, "y": {"datum": 0.37, "type": "quantitative"}, "text": {"value": "Weltevreden Al-undepleted"}}},
   {"data": {"values": [{}]}, "mark": {"type": "text", "align": "right", "baseline": "alphabetic", "fontSize": 32, "color": "#231f20", "dx": -5}, "encoding": {"x": {"datum": "Lu", "type": "ordinal"}, "y": {"datum": 0.126, "type": "quantitative"}, "text": {"value": "3.3 Ga"}}}
  ]}
 ], "bounds": "flush", "spacing": 0}
], "bounds": "full", "spacing": -53}
]
}
